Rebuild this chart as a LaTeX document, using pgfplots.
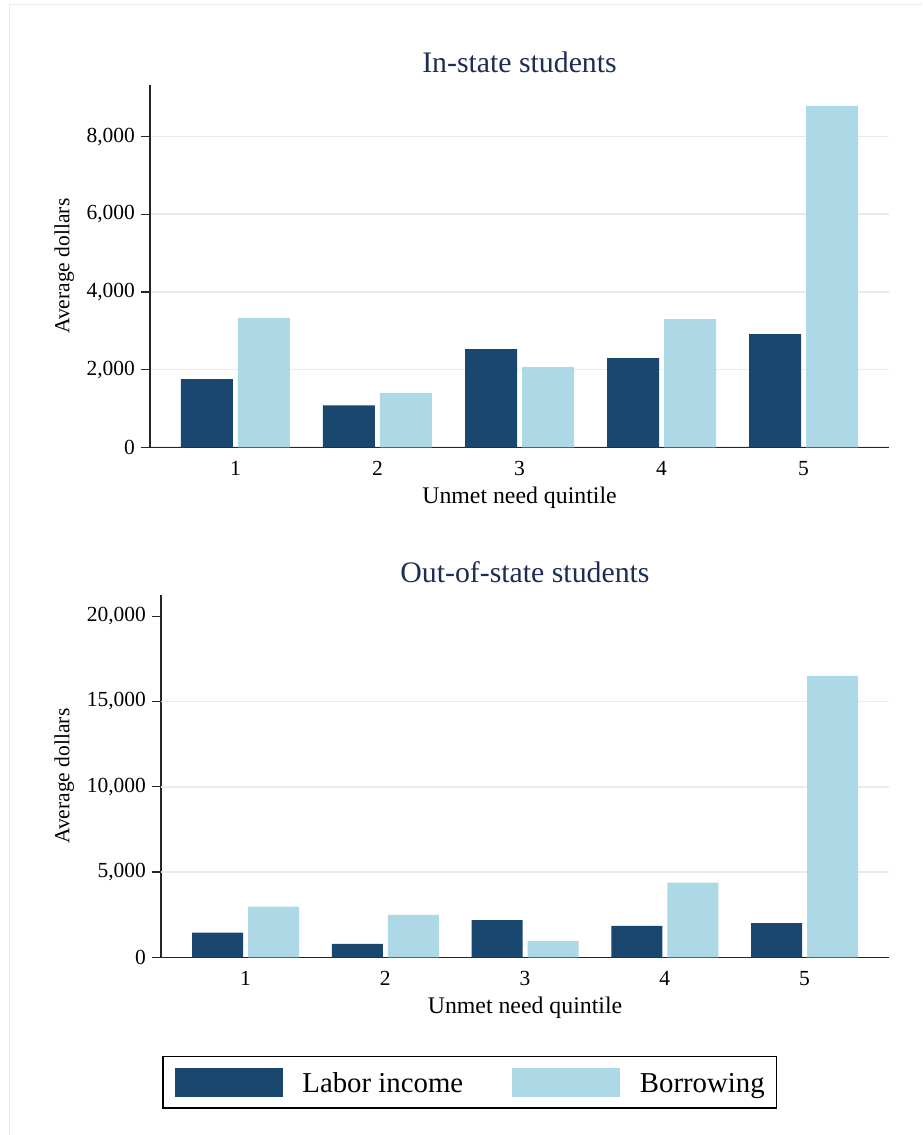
\documentclass[border=0pt]{standalone}
\usepackage{pgfplots}
\pgfplotsset{compat=1.18}
\usepackage{pgfplotstable}
\usepackage{fontspec}
\setmainfont{Liberation Serif}
\definecolor{navybar}{RGB}{26,71,111}
\definecolor{ltbar}{RGB}{173,216,230}
\definecolor{gridcol}{RGB}{228,237,240}
\definecolor{titlecol}{RGB}{30,45,85}
\definecolor{framecol}{RGB}{228,234,238}

\pgfplotstableread{
q labor borrow
1 1753 3333
2 1082 1392
3 2526 2062
4 2294 3299
5 2912 8789
}\instate

\pgfplotstableread{
q labor borrow
1 1442 2966
2 780 2480
3 2186 955
4 1835 4373
5 2010 16489
}\outstate

\pgfplotsset{
  mybars/.style={
    scale only axis,
    ybar,
    axis x line*=bottom, axis y line*=left,
    axis line style={-, line width=1.1pt, black!85},
    ymin=0,
    xtick=data,
    xtick style={draw=none},
    tick align=outside,
    ytick style={line width=1.1pt, black!85},
    major tick length=9pt,
    scaled y ticks=false,
    /pgf/number format/assume math mode=true,
    /pgf/number format/1000 sep={,},
    tick label style={font=\fontsize{21.5}{24}\selectfont, black},
    yticklabel style={anchor=east, xshift=-2.5pt},
    xticklabel style={anchor=base, yshift=-19pt},
    title style={at={(axis description cs:0.5,1)}, anchor=base, yshift=6.5pt, font=\fontsize{29.8}{34}\selectfont, text=titlecol},
    xlabel style={at={(axis description cs:0.5,0)}, anchor=base, yshift=-56pt, font=\fontsize{23.8}{27}\selectfont},
    major grid style={gridcol, line width=1.7pt},
    xlabel={Unmet need quintile},
    ylabel={Average dollars},
  }
}

\begin{document}
\begin{tikzpicture}[x=1pt,y=1pt]
\useasboundingbox (0,0) rectangle (922,1135);
\fill[white] (0,0) rectangle (922,1135);
\draw[framecol, line width=1pt] (9.3,0) -- (9.3,1130.7) -- (922,1130.7);

\begin{axis}[mybars,
  at={(150pt,687.7pt)}, anchor=south west,
  width=739pt, height=362.3pt,
  xmin=0.398, xmax=5.602,
  ymax=9330,
  ytick={0,2000,4000,6000,8000},
  ymajorgrids,
  title={In-state students},
  ylabel style={at={(axis description cs:-0.1161,0.5)}, anchor=center, font=\fontsize{21.5}{24}\selectfont},
]
\addplot[fill=navybar, draw=none, bar width=52pt, bar shift=-28.5pt] table[x=q, y=labor] {\instate};
\addplot[fill=ltbar, draw=none, bar width=52pt, bar shift=28.5pt] table[x=q, y=borrow] {\instate};
\end{axis}

\begin{axis}[mybars,
  at={(161pt,177.7pt)}, anchor=south west,
  width=728pt, height=362.3pt,
  xmin=0.395, xmax=5.604,
  ymax=21236,
  ytick={0,5000,10000,15000,20000},
  extra y ticks={5000,10000,15000},
  extra y tick labels={},
  extra y tick style={grid=major, major tick length=0pt},
  title={Out-of-state students},
  ylabel style={at={(axis description cs:-0.133,0.5)}, anchor=center, font=\fontsize{21.5}{24}\selectfont},
  legend columns=2,
  legend style={at={(axis description cs:0.0018,-0.2716)}, anchor=north west,
    draw=black, line width=1.5pt, inner xsep=11.7pt, inner ysep=11.5pt,
    font=\fontsize{28.8}{32}\selectfont,
    nodes={inner sep=0pt, anchor=base west},
    /tikz/every odd column/.append style={column sep=19.4pt},
    /tikz/every even column/.append style={column sep=49pt}},
]
\addplot[fill=navybar, draw=none, bar width=51pt, bar shift=-28pt,
  legend image code/.code={\fill[navybar] (0pt,-4.4pt) rectangle (108.3pt,24.3pt);}] table[x=q, y=labor] {\outstate};
\addlegendentry{Labor income}
\addplot[fill=ltbar, draw=none, bar width=51pt, bar shift=28pt,
  legend image code/.code={\fill[ltbar] (0pt,-4.4pt) rectangle (108.3pt,24.3pt);}] table[x=q, y=borrow] {\outstate};
\addlegendentry{Borrowing}
\end{axis}
\end{tikzpicture}
\end{document}
